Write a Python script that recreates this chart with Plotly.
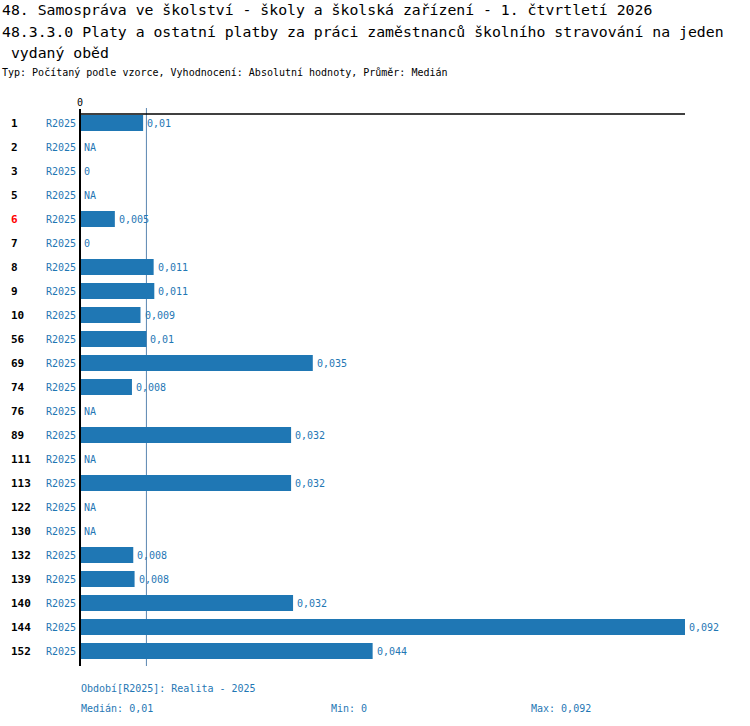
import plotly.graph_objects as go

# data
units = ["1", "2", "3", "5", "6", "7", "8", "9", "10", "56", "69", "74", "76",
         "89", "111", "113", "122", "130", "132", "139", "140", "144", "152"]
period = "R2025"
values = [0.0096, None, 0, None, 0.0053, 0, 0.0112, 0.0113, 0.0092, 0.0101,
          0.0354, 0.0079, None, 0.0321, None, 0.0321, None, None, 0.0081,
          0.0083, 0.0324, 0.092, 0.0445]
highlight = "6"

title1 = "48. Samospráva ve školství - školy a školská zařízení - 1. čtvrtletí 2026"
title2 = "48.3.3.0 Platy a ostatní platby za práci zaměstnanců školního stravování na jeden"
title3 = " vydaný oběd"
subtitle = "Typ: Počítaný podle vzorce, Vyhodnocení: Absolutní hodnoty, Průměr: Medián"
period_note = "Období[R2025]: Realita - 2025"

BLUE = "#1f77b4"
FONT = "DejaVu Sans Mono"

# plot area in pixels: x 80..685, y 111..663
L, R, T, B = 80, 685, 111, 663
W, H = 750, 726


def px_x(p):
    return (p - L) / (R - L)


def px_y(p):
    return (B - p) / (B - T)


def fmt(v):
    if v is None:
        return "NA"
    s = ("%.3f" % round(v, 3)).rstrip("0").rstrip(".")
    return s.replace(".", ",")


known = sorted(v for v in values if v is not None)
n = len(known)
median = known[n // 2] if n % 2 else (known[n // 2 - 1] + known[n // 2]) / 2
vmin, vmax = min(known), max(known)

bar_x = [v if v is not None else 0 for v in values]

fig = go.Figure()
fig.add_trace(go.Bar(
    x=bar_x, y=units, orientation="h",
    marker=dict(color=BLUE, line=dict(width=0)),
    width=0.66, hoverinfo="skip",
))

ann = []
for i, u in enumerate(units):
    ann.append(dict(x=px_x(9), y=i, xref="paper", yref="y", xanchor="left",
                    yanchor="middle", text="<b>%s</b>" % u, showarrow=False,
                    font=dict(family=FONT, size=11,
                              color="red" if u == highlight else "black")))
    ann.append(dict(x=px_x(78), y=i, xref="paper", yref="y", xanchor="right",
                    yanchor="middle", text=period, showarrow=False,
                    font=dict(family=FONT, size=10, color=BLUE)))
    # value label right of the bar
    ann.append(dict(x=bar_x[i], y=i, xref="x", yref="y", xanchor="left",
                    yanchor="middle", xshift=2, text=fmt(values[i]),
                    showarrow=False, font=dict(family=FONT, size=10, color=BLUE)))

ann.append(dict(x=0, y=px_y(102), xref="x", yref="paper", text="0",
                yanchor="middle", showarrow=False,
                font=dict(family=FONT, size=10, color="black")))

for txt, y, size in [(title1, 9, 14.8), (title2, 31, 14.8), (title3, 52, 14.8),
                     (subtitle, 73, 10)]:
    ann.append(dict(x=px_x(0), y=px_y(y), xref="paper", yref="paper",
                    xanchor="left", yanchor="middle", text=txt, showarrow=False,
                    font=dict(family=FONT, size=size, color="black")))

for txt, x, y in [(period_note, 79, 688), ("Medián: " + fmt(median), 79, 708),
                  ("Min: " + fmt(vmin), 329, 708), ("Max: " + fmt(vmax), 529, 708)]:
    ann.append(dict(x=px_x(x), y=px_y(y), xref="paper", yref="paper",
                    xanchor="left", yanchor="middle", text=txt, showarrow=False,
                    font=dict(family=FONT, size=10, color=BLUE)))

shapes = [
    # top line
    dict(type="line", xref="paper", yref="paper", x0=0, x1=1,
         y0=px_y(114), y1=px_y(114), line=dict(color="black", width=1.5)),
    # median line, behind the bars
    dict(type="line", xref="x", yref="paper", x0=median, x1=median,
         y0=px_y(108), y1=px_y(666), layer="below",
         line=dict(color="#5a86b0", width=1)),
    # left axis
    dict(type="line", xref="paper", yref="paper", x0=0, x1=0,
         y0=px_y(109), y1=px_y(666), line=dict(color="black", width=2)),
]

fig.update_layout(
    width=W, height=H,
    margin=dict(l=L, r=W - R, t=T, b=H - B),
    paper_bgcolor="white", plot_bgcolor="white",
    showlegend=False,
    xaxis=dict(range=[0, vmax], showgrid=False, zeroline=False,
               showticklabels=False, showline=False, fixedrange=True),
    yaxis=dict(type="category", categoryorder="array", categoryarray=units,
               range=[len(units) - 0.5, -0.5], showgrid=False, zeroline=False,
               showticklabels=False, showline=False, fixedrange=True),
    annotations=ann, shapes=shapes,
)

fig.write_html("out.html", config={"displayModeBar": False},
               post_script="document.body.style.margin='0';")
